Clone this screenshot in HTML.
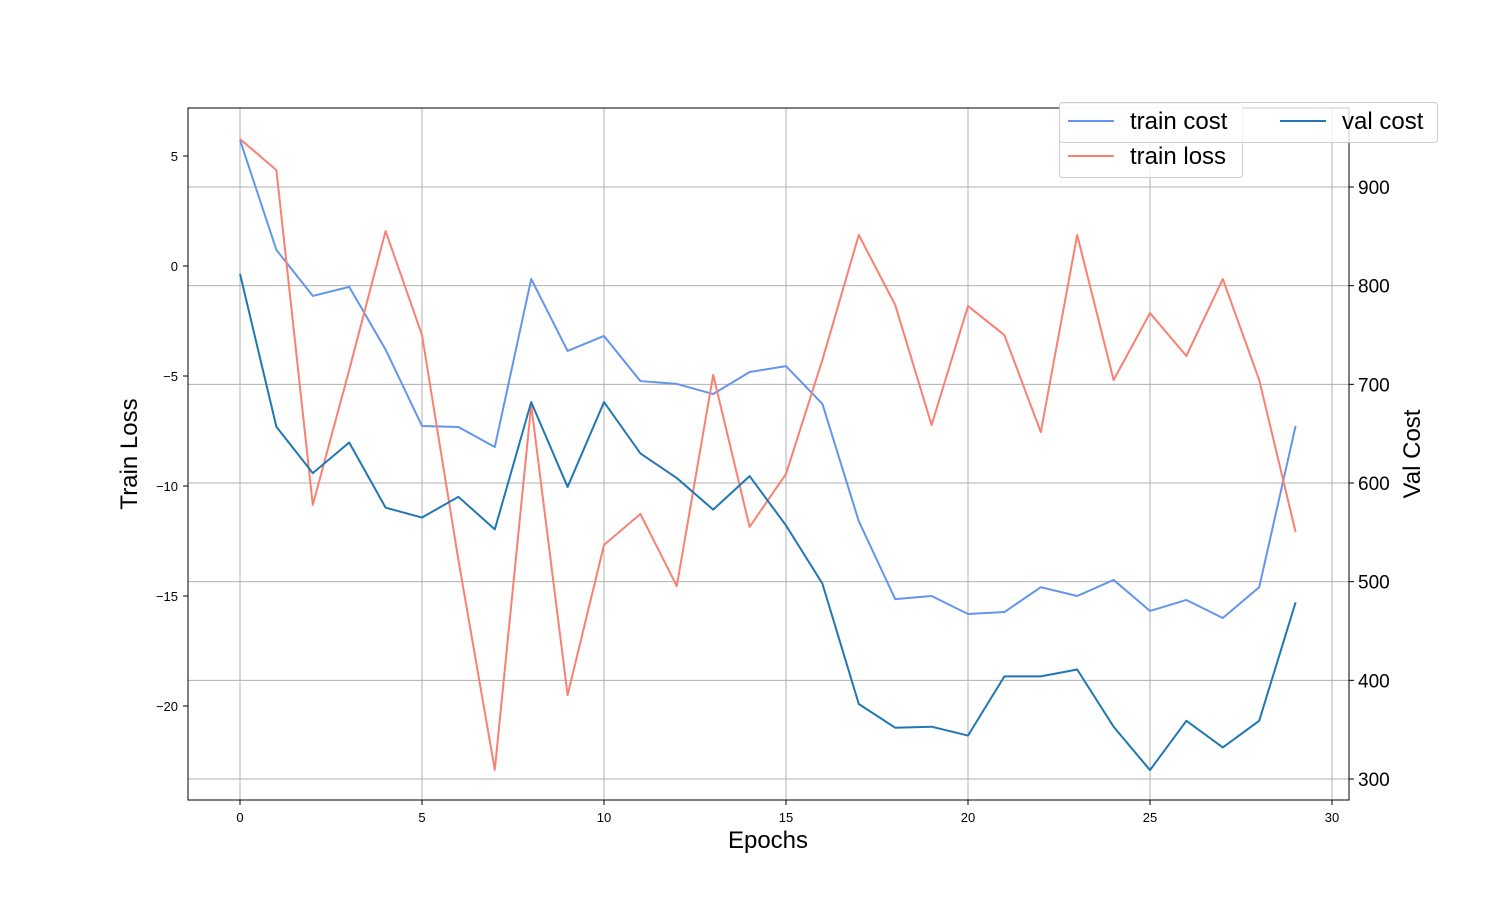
<!DOCTYPE html>
<html><head><meta charset="utf-8"><style>
html,body{margin:0;padding:0;background:#fff;}
svg text{font-family:"Liberation Sans","DejaVu Sans",sans-serif;}
</style></head><body>
<svg id="chart" width="1500" height="900" xmlns="http://www.w3.org/2000/svg">
<rect width="1500" height="900" fill="#fff"/>
<g id="grid"></g>
<g id="series"></g>
<rect x="188" y="108" width="1161" height="692" fill="none" stroke="#000" stroke-width="1"/>
<g id="ticks"></g>
<text x="768" y="848" font-size="24" text-anchor="middle">Epochs</text>
<text transform="translate(137,454) rotate(-90)" font-size="24" text-anchor="middle">Train Loss</text>
<text transform="translate(1420,454) rotate(-90)" font-size="24" text-anchor="middle">Val Cost</text>
<g>
<rect x="1059.5" y="103.5" width="183" height="74" rx="3" fill="#fff" fill-opacity="0.8" stroke="#ccc"/>
<line x1="1068" y1="121" x2="1114" y2="121" stroke="#6495ed" stroke-width="2"/>
<text x="1130" y="129" font-size="24">train cost</text>
<line x1="1068" y1="156" x2="1114" y2="156" stroke="#fa8072" stroke-width="2"/>
<text x="1130" y="164" font-size="24">train loss</text>
</g>
<g>
<rect x="1059.5" y="102.5" width="378" height="40" rx="3" fill="#fff" fill-opacity="0.8" stroke="#ccc"/>
<line x1="1068" y1="121" x2="1114" y2="121" stroke="#6495ed" stroke-width="2"/>
<text x="1130" y="129" font-size="24">train cost</text>
<line x1="1280" y1="121" x2="1326" y2="121" stroke="#1f77b4" stroke-width="2"/>
<text x="1342" y="129" font-size="24">val cost</text>
</g>
</svg>
<script>
const epochs=[0,1,2,3,4,5,6,7,8,9,10,11,12,13,14,15,16,17,18,19,20,21,22,23,24,25,26,27,28,29];
const trainCost=[5.73,0.73,-1.36,-0.95,-3.8,-7.27,-7.32,-8.23,-0.59,-3.86,-3.18,-5.23,-5.36,-5.82,-4.82,-4.55,-6.27,-11.6,-15.14,-15.0,-15.82,-15.73,-14.6,-15.0,-14.27,-15.68,-15.18,-16.0,-14.6,-7.27];
const trainLoss=[5.77,4.36,-10.86,-4.73,1.59,-3.14,-13.36,-22.9,-6.32,-19.5,-12.68,-11.27,-14.55,-4.95,-11.86,-9.45,-4.27,1.41,-1.77,-7.23,-1.82,-3.14,-7.55,1.41,-5.18,-2.14,-4.09,-0.59,-5.18,-12.09];
const valCost=[812,657,610,641,575,565,586,553,682,596,682,630,605,573,607,557,498,376,352,353,344,404,404,411,353,309,359,332,359,479];
const xTicks=[0,5,10,15,20,25,30];
const leftTicks=[5,0,-5,-10,-15,-20];
const rightTicks=[900,800,700,600,500,400,300];

const NS="http://www.w3.org/2000/svg";
const X=v=>240+v*(1332-240)/30;
const YL=v=>266-v*22;
const YR=v=>187+(900-v)*(779-187)/600;
function mk(tag,attrs,parent){const e=document.createElementNS(NS,tag);for(const k in attrs)e.setAttribute(k,attrs[k]);document.getElementById(parent).appendChild(e);return e;}

xTicks.forEach(t=>{
 const g=mk('line',{x1:X(t),x2:X(t),y1:108,y2:800,stroke:'#b0b0b0','stroke-width':1},'grid');
 
 
 mk('line',{x1:X(t),x2:X(t),y1:800,y2:805,stroke:'#000'},'ticks');
 const tx=mk('text',{x:X(t),y:822,'font-size':13,'text-anchor':'middle'},'ticks');
 tx.textContent=t;
 
 
});
rightTicks.forEach(t=>{
 const g=mk('line',{x1:188,x2:1349,y1:YR(t),y2:YR(t),stroke:'#b0b0b0','stroke-width':1},'grid');
 
 
 mk('line',{x1:1349,x2:1354,y1:YR(t),y2:YR(t),stroke:'#000'},'ticks');
 const tx=mk('text',{x:1358,y:YR(t)+7,'font-size':19},'ticks');
 tx.textContent=t;
 
 
});
leftTicks.forEach(t=>{
 mk('line',{x1:183,x2:188,y1:YL(t),y2:YL(t),stroke:'#000'},'ticks');
 const tx=mk('text',{x:178,y:YL(t)+5,'font-size':13,'text-anchor':'end'},'ticks');
 tx.textContent=(t<0?'\u2212'+(-t):t);
 
 
});
function line(vals,yf,color,name){
 const p=mk('polyline',{points:vals.map((v,i)=>X(epochs[i])+','+yf(v)).join(' '),fill:'none',stroke:color,'stroke-width':2,'stroke-linejoin':'round'},'series');
 
 
}
line(trainCost,YL,'#6495ed','train-cost-line');
line(trainLoss,YL,'#fa8072','train-loss-line');
line(valCost,YR,'#1f77b4','val-cost-line');
</script>
</body></html>
